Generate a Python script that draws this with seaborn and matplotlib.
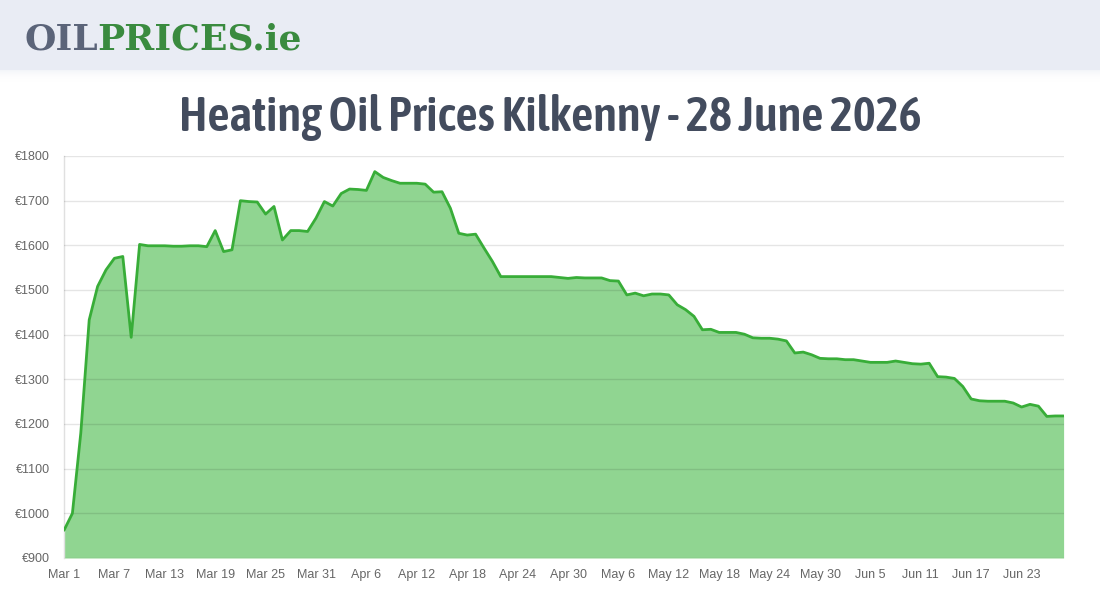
import matplotlib
matplotlib.use("Agg")
import matplotlib.pyplot as plt
import matplotlib.patches as mpatches
from matplotlib import font_manager as fm
import numpy as np
import pandas as pd
import seaborn as sns

# ---------------- data ----------------
start_date = "2026-03-01"
prices = [
    962, 1000, 1180, 1433, 1508, 1545, 1571, 1575, 1394, 1602,
    1599, 1599, 1599, 1598, 1598, 1599, 1599, 1597, 1633, 1586,
    1590, 1700, 1698, 1697, 1670, 1687, 1612, 1633, 1633, 1631,
    1661, 1698, 1688, 1716, 1726, 1725, 1723, 1765, 1752, 1745,
    1739, 1739, 1739, 1737, 1719, 1720, 1683, 1627, 1623, 1625,
    1594, 1564, 1530, 1530, 1530, 1530, 1530, 1530, 1530, 1528,
    1526, 1528, 1527, 1527, 1527, 1521, 1520, 1489, 1493, 1487,
    1491, 1491, 1489, 1467, 1456, 1441, 1411, 1412, 1405, 1405,
    1405, 1401, 1393, 1392, 1392, 1390, 1386, 1359, 1361, 1355,
    1347, 1346, 1346, 1344, 1344, 1341, 1338, 1338, 1338, 1341,
    1338, 1335, 1334, 1336, 1306, 1305, 1302, 1284, 1256, 1252,
    1251, 1251, 1251, 1247, 1238, 1244, 1240, 1217, 1218, 1218,
]
y_ticks = [900, 1000, 1100, 1200, 1300, 1400, 1500, 1600, 1700, 1800]
tick_every_days = 6
title_text = "Heating Oil Prices Kilkenny - 28 June 2026"
logo_parts = ["OIL", "PRICES.ie"]

dates = pd.date_range(start_date, periods=len(prices), freq="D")
df = pd.DataFrame({"date": dates, "price": prices})

# ---------------- pick a condensed font for the title ----------------
def stretch_val(s):
    if isinstance(s, (int, float)):
        return s
    table = {"ultra-condensed": 100, "extra-condensed": 200, "condensed": 300,
             "semi-condensed": 400, "normal": 500}
    return table.get(str(s), 500)

def weight_val(w):
    if isinstance(w, (int, float)):
        return w
    table = {"ultralight": 100, "light": 300, "normal": 400, "regular": 400, "book": 400,
             "medium": 500, "roman": 400, "semibold": 600, "demibold": 600, "demi": 600,
             "bold": 700, "heavy": 800, "extra bold": 800, "black": 900}
    return table.get(str(w), 400)

best = None
for f in fm.fontManager.ttflist:
    nm = f.name
    cond = ("Condensed" in nm or "Narrow" in nm or stretch_val(f.stretch) < 500)
    if not cond:
        continue
    if any(k in nm for k in ["CJK", "Mono", "Serif"]):
        continue
    w = weight_val(f.weight)
    score = abs(w - 600) + (0 if "Italic" not in f.fname and f.style == "normal" else 1000)
    if best is None or score < best[0]:
        best = (score, f.fname)

if best is not None:
    title_fp = fm.FontProperties(fname=best[1], size=38)
else:
    title_fp = fm.FontProperties(family="Roboto", weight="bold", size=38)

# ---------------- figure ----------------
sns.set_theme(style="white")
plt.rcParams["font.family"] = ["Liberation Sans", "DejaVu Sans"]

fig = plt.figure(figsize=(11, 6), dpi=100)
W, H = 1100, 600

# header band with soft shadow
fig.patches.append(mpatches.Rectangle((0, 1 - 70 / H), 1, 70 / H, transform=fig.transFigure,
                                      facecolor="#e9ecf4", edgecolor="none", zorder=0))
for i in range(12):
    fig.patches.append(mpatches.Rectangle((0, 1 - (71 + i) / H), 1, 1 / H, transform=fig.transFigure,
                                          facecolor="#e9ecf4", edgecolor="none",
                                          alpha=0.5 * (1 - i / 12) ** 2, zorder=0))

ax = fig.add_axes([64 / W, 1 - 558 / H, (1063.6 - 64) / W, (558 - 156) / H])

line_color = "#38ad38"
fill_color = "#90d591"

ax.fill_between(df["date"], df["price"], 900, color=fill_color, linewidth=0, zorder=1)
sns.lineplot(data=df, x="date", y="price", ax=ax, color=line_color, linewidth=2.0, zorder=3)

ax.set_xlim(dates[0], dates[-1])
ax.set_ylim(900, 1800)
ax.set_yticks(y_ticks)
ax.set_yticklabels([f"€{v}" for v in y_ticks])

xt = dates[::tick_every_days]
ax.set_xticks(xt)
ax.set_xticklabels([f"{d:%b} {d.day}" for d in xt])

ax.set_xlabel("")
ax.set_ylabel("")
ax.grid(axis="y", color="#000000", alpha=0.1, linewidth=1, zorder=2)
ax.grid(axis="x", visible=False)
ax.set_axisbelow(False)
for s in ["top", "right", "bottom"]:
    ax.spines[s].set_visible(False)
ax.spines["left"].set_color("#e0e0e0")
ax.spines["left"].set_linewidth(1)
ax.tick_params(axis="y", length=8, width=1, color="#e0e0e0", labelsize=9, labelcolor="#666666", pad=2)
ax.tick_params(axis="x", length=0, labelsize=9, labelcolor="#666666", pad=8)
for lbl in ax.get_yticklabels() + ax.get_xticklabels():
    lbl.set_fontfamily(["Liberation Sans", "DejaVu Sans"])

# title, fitted to the reference width
title = fig.text(550 / W, 1 - 117 / H, title_text, ha="center", va="center",
                 color="#434c5e", fontproperties=title_fp)
fig.canvas.draw()
renderer = fig.canvas.get_renderer()
tw = title.get_window_extent(renderer=renderer).width
target_w = 743
new_size = min(40, 38 * target_w / tw)
title.set_fontsize(new_size)

# logo
t1 = fig.text(24 / W, 1 - 50 / H, logo_parts[0], ha="left", va="baseline",
              fontsize=26, color="#5b6479", fontweight="bold", fontfamily=["DejaVu Serif"])
bb = t1.get_window_extent(renderer=renderer)
fig.text(bb.x1 / W, 1 - 50 / H, logo_parts[1], ha="left", va="baseline",
         fontsize=26, color="#3a8b3f", fontweight="bold", fontfamily=["DejaVu Serif"])

fig.savefig("out.png", dpi=100, facecolor="white")
